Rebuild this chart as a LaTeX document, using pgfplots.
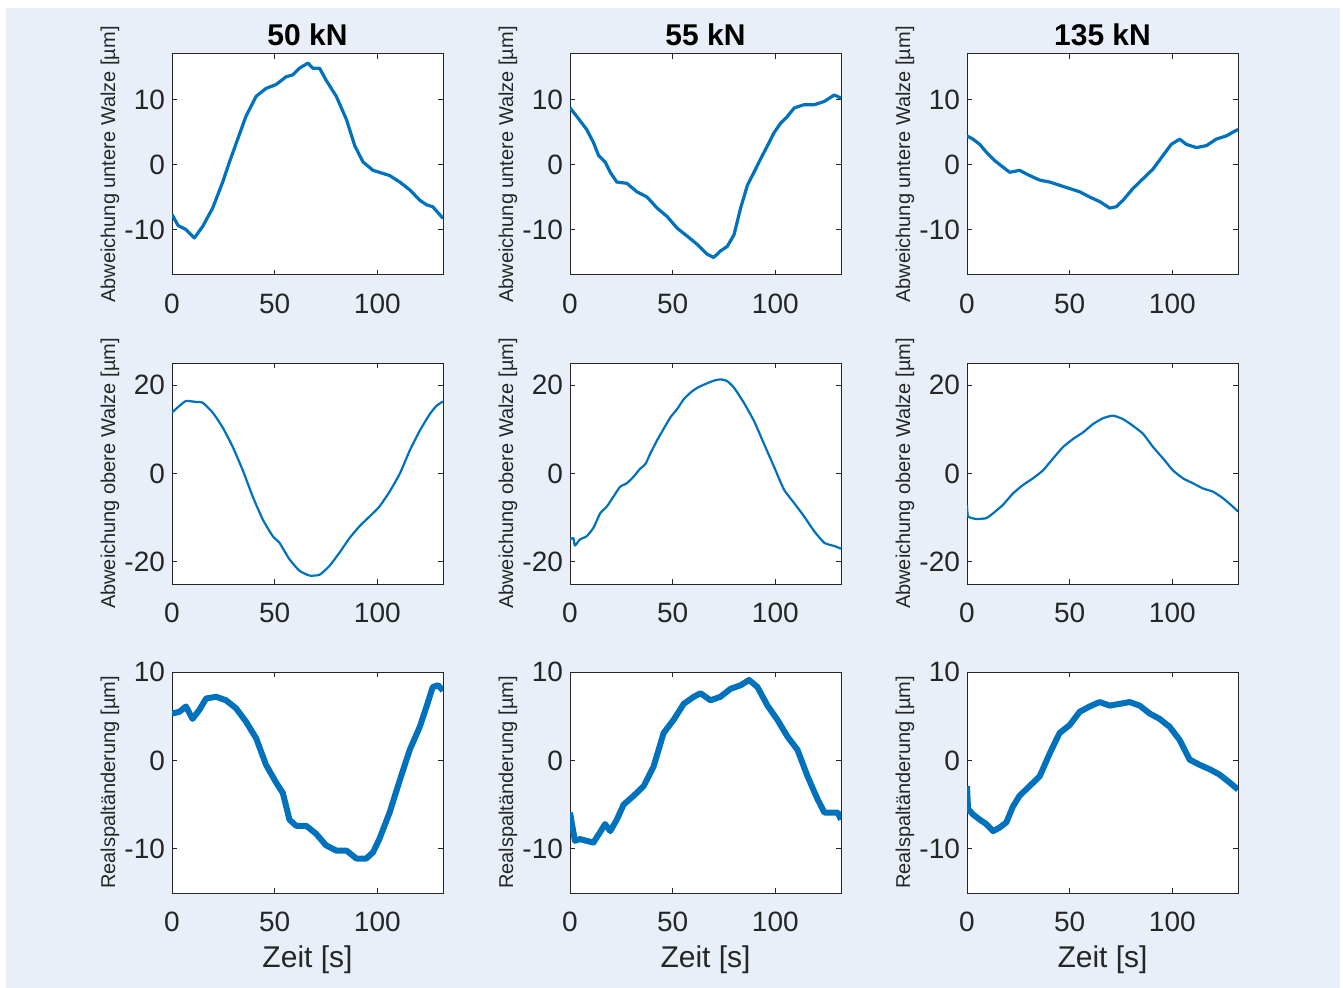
\documentclass[border=0pt]{standalone}
\usepackage{fontspec}
\setmainfont{Liberation Sans}
\usepackage{pgfplots}
\pgfplotsset{compat=1.18}
\definecolor{bgblue}{RGB}{232,239,248}
\definecolor{axisgray}{RGB}{38,38,38}
\definecolor{mblue}{RGB}{0,114,189}
\pgfplotsset{
  mplot/.style={
    scale only axis, width=135.5pt, height=110.5pt,
    xmin=0, xmax=132, xtick={0,50,100},
    axis background/.style={fill=white},
    tick align=inside, major tick length=2.5pt,
    axis line style={draw=axisgray, line width=0.5pt},
    every tick/.style={draw=axisgray, line width=0.5pt},
    tick label style={font=\fontsize{14}{16}\selectfont, text=axisgray},
    /pgf/number format/assume math mode=true,
    xticklabel style={yshift=-6pt},
    ylabel style={at={(axis description cs:-0.229,0.5)}, anchor=center, rotate=0, font=\fontsize{10}{12}\selectfont, text=axisgray},
    title style={at={(axis description cs:0.5,1)}, anchor=base, yshift=-2pt, font=\bfseries\fontsize{15}{17}\selectfont},
    xlabel style={at={(axis description cs:0.5,0)}, anchor=base, yshift=-37pt, font=\fontsize{15}{17}\selectfont, text=axisgray},
  },
  rA/.style={ymin=-17, ymax=17, ytick={-10,0,10}, ylabel={Abweichung untere Walze [µm]}},
  rB/.style={ymin=-25, ymax=25, ytick={-20,0,20}, ylabel={Abweichung obere Walze [µm]}},
  rC/.style={ymin=-15, ymax=10, ytick={-10,0,10}, ylabel={Realspaltänderung [µm]}, xlabel={Zeit [s]}},
  cA/.style={mblue, line width=1.6pt, line join=round},
  cB/.style={mblue, line width=1.1pt, line join=round, smooth, tension=0.3},
  cC/.style={mblue, line width=3pt, line join=round},
}
\begin{document}
\begin{tikzpicture}
\useasboundingbox (0,0) rectangle (671.5pt,-494pt);
\fill[white] (0,0) rectangle (671.5pt,-494pt);
\fill[bgblue] (3pt,-4pt) rectangle (670pt,-494pt);

% ---------- column 1: 50 kN ----------
\begin{axis}[mplot, rA, title={50 kN}, at={(86pt,-137.5pt)}, anchor=south west]
\addplot[cA] coordinates {
(0,-7.7)(3,-9.4)(6.8,-10)(10.9,-11.3)(15,-9.5)(19.8,-6.7)(24.7,-2.7)(28,0.4)(32,3.9)(36,7.4)(41,10.5)(45.8,11.7)(50.7,12.3)(55.6,13.5)(58.9,13.8)(62,14.8)(66.2,15.6)(68.6,14.8)(71.9,14.8)(75,13)(80,10.5)(85,6.9)(89,2.9)(93,0.4)(97.9,-0.9)(101,-1.2)(106,-1.7)(111,-2.7)(115.8,-3.9)(120.7,-5.5)(124,-6.2)(127,-6.5)(132,-8.3)};
\end{axis}
\begin{axis}[mplot, rB, at={(86pt,-292pt)}, anchor=south west]
\addplot[cB] coordinates {
(0,13.8)(3.6,15.3)(6.8,16.4)(11.7,16.2)(15,16)(19.8,13.8)(24.7,10.4)(29.6,6)(34.5,0.7)(39.3,-5.2)(44.2,-10.4)(49.1,-14.2)(52.4,-15.7)(57.2,-19.4)(62.1,-22)(67,-23.1)(71.9,-22.9)(76.7,-20.9)(81.6,-17.9)(86.5,-14.6)(91.4,-11.9)(96.3,-9.7)(101,-7.5)(106,-4.1)(111,0)(115.8,5.2)(120.7,9.7)(125.5,13.4)(128.8,15.3)(132,16.3)};
\end{axis}
\begin{axis}[mplot, rC, at={(86pt,-446.5pt)}, anchor=south west]
\addplot[cC] coordinates {
(0,5.3)(3.6,5.5)(6.8,6.1)(10,4.7)(13.3,5.7)(16.6,7)(21.5,7.2)(26.3,6.8)(31.2,5.9)(36,4.4)(41,2.5)(45.8,-0.5)(50.7,-2.5)(54,-3.7)(57.2,-6.7)(60.5,-7.4)(65.4,-7.4)(70.2,-8.3)(75,-9.6)(80,-10.2)(85,-10.2)(89.8,-11.1)(94.6,-11.1)(97.9,-10.4)(101,-8.9)(106,-5.9)(111,-2.2)(115.8,1.2)(120.7,3.8)(124,6.1)(127,8.3)(129.6,8.5)(132,7.9)};
\end{axis}

% ---------- column 2: 55 kN ----------
\begin{axis}[mplot, rA, title={55 kN}, at={(285pt,-137.5pt)}, anchor=south west]
\addplot[cA] coordinates {
(0,8.7)(3.3,7.4)(8.1,5.4)(11.4,3.4)(13.9,1.4)(17.1,0.4)(19.6,-1.2)(22.8,-2.7)(27.7,-2.9)(32.6,-4.2)(37.5,-5)(42.4,-6.7)(47.3,-8)(52.2,-9.8)(57,-11)(62,-12.3)(66.8,-13.8)(70,-14.3)(73.3,-13.3)(76.6,-12.6)(79.9,-10.8)(83.1,-6.7)(86.4,-3.2)(89.6,-1.2)(92.9,0.9)(96.2,2.9)(99.4,4.9)(102.7,6.4)(105.9,7.4)(109.2,8.7)(114,9.2)(119,9.2)(123.9,9.7)(128.7,10.7)(132,10.2)};
\end{axis}
\begin{axis}[mplot, rB, at={(285pt,-292pt)}, anchor=south west]
\addplot[cB] coordinates {
(0,-14.9)(1.6,-14.6)(2.4,-16.3)(4.9,-14.9)(8.1,-14.2)(11.4,-12.3)(14.7,-9)(17.9,-7.5)(21.2,-5.2)(24.4,-3)(27.7,-2.2)(31,-0.7)(34.2,1.1)(36.7,2.1)(39.1,4.5)(42.4,7.5)(45.6,10.1)(48.9,12.7)(52.2,14.6)(55.4,16.8)(58.7,18.3)(62,19.4)(65.2,20.1)(70,21)(73.3,21.3)(76.6,20.9)(79.9,19.4)(84.7,16)(89.6,11.9)(94.5,6.7)(99.4,1.5)(104.3,-3.7)(109.2,-6.7)(114,-9.7)(119,-13.1)(123.9,-15.7)(128.7,-16.4)(132,-17)};
\end{axis}
\begin{axis}[mplot, rC, at={(285pt,-446.5pt)}, anchor=south west]
\addplot[cC] coordinates {
(0,-5.9)(0.8,-7)(2.4,-9.1)(4.9,-8.9)(8.1,-9.1)(11.4,-9.3)(14.7,-8.1)(17.1,-7.2)(19.6,-8)(22.8,-6.7)(26.1,-5)(31,-4)(35.9,-2.9)(40.7,-0.7)(45.6,3.1)(50.5,4.6)(55.4,6.4)(60.3,7.2)(63.6,7.6)(68.4,6.8)(73.3,7.2)(78.2,8.1)(83.1,8.5)(87.2,9.1)(91.3,8.3)(96.2,6.2)(101,4.6)(105.9,2.7)(110.8,1.2)(115.7,-1.8)(120.6,-4.4)(123.9,-5.9)(127.1,-5.9)(130.4,-5.9)(132,-6.7)};
\end{axis}

% ---------- column 3: 135 kN ----------
\begin{axis}[mplot, rA, title={135 kN}, at={(483.5pt,-137.5pt)}, anchor=south west]
\addplot[cA] coordinates {
(0,4.4)(2.9,3.9)(6.2,3.1)(9.4,1.9)(13.5,0.6)(17.5,-0.4)(20.8,-1.2)(25.6,-0.9)(30.5,-1.7)(35.4,-2.4)(40.3,-2.7)(45.1,-3.2)(50,-3.7)(54.9,-4.2)(59.7,-5)(64.6,-5.7)(69.5,-6.7)(72.7,-6.5)(76,-5.5)(80.8,-3.7)(85.7,-2.2)(90.6,-0.7)(95.5,1.4)(99.5,3.1)(103.6,3.9)(106.8,3.1)(111.7,2.6)(116.6,2.9)(121.4,3.9)(126.3,4.4)(132,5.4)};
\end{axis}
\begin{axis}[mplot, rB, at={(483.5pt,-292pt)}, anchor=south west]
\addplot[cB] coordinates {
(0,-7.1)(0.5,-9.7)(4.5,-10.3)(9.4,-10.1)(12.7,-9)(17.5,-7.1)(22.4,-4.5)(27.3,-2.6)(32.1,-1.1)(37,0.7)(41.9,3.4)(46.8,6)(51.6,7.8)(56.5,9.3)(61.4,11.2)(66.2,12.5)(71.1,13.1)(76,12.3)(80.8,10.8)(85.7,9)(90.6,6)(95.5,3.4)(100.3,0.7)(105.2,-1.1)(110,-2.2)(115,-3.4)(119.8,-4.1)(124.7,-5.6)(129.5,-7.5)(132,-8.6)};
\end{axis}
\begin{axis}[mplot, rC, at={(483.5pt,-446.5pt)}, anchor=south west]
\addplot[cC] coordinates {
(0,-2.9)(0.5,-5.5)(2.9,-6.1)(6.2,-6.7)(9.4,-7.2)(12.7,-8)(15.9,-7.6)(19.2,-7)(22.4,-5.2)(25.6,-4)(30.5,-2.9)(35.4,-1.8)(40.3,0.8)(45.1,3.1)(50,4)(54.9,5.5)(59.7,6.1)(64.6,6.6)(69.5,6.2)(74.4,6.4)(79.2,6.6)(84.1,6.2)(89,5.3)(93.8,4.7)(98.7,3.8)(103.6,2.3)(108.4,0.1)(113.3,-0.5)(118.2,-1)(123,-1.6)(127.9,-2.5)(132,-3.3)};
\end{axis}
\end{tikzpicture}
\end{document}
